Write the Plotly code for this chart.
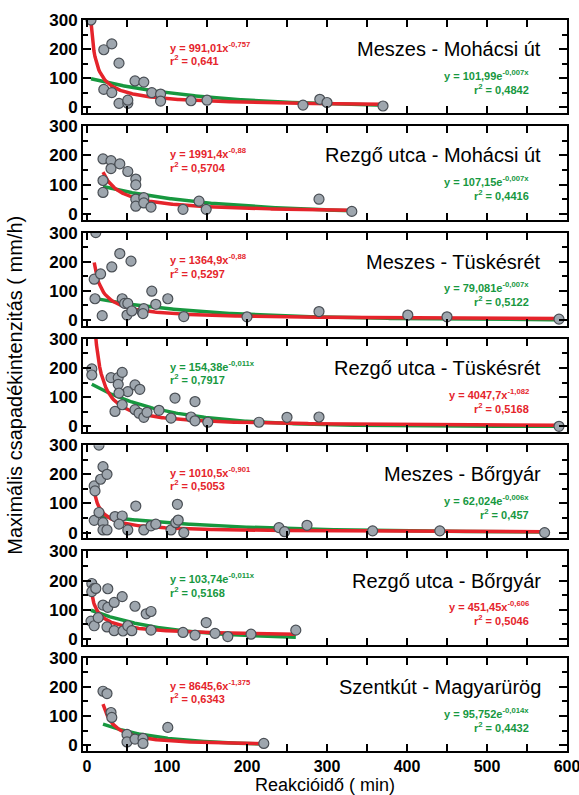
import numpy as np
import plotly.graph_objects as go
from plotly.subplots import make_subplots

panel_titles = ["Meszes - Mohácsi út", "Rezgő utca - Mohácsi út", "Meszes - Tüskésrét",
                "Rezgő utca - Tüskésrét", "Meszes - Bőrgyár", "Rezgő utca - Bőrgyár",
                "Szentkút - Magyarürög"]

# observed points (reaction time in min, max intensity mm/h)
x1 = [5, 21, 31, 40, 21, 31, 40, 51, 51, 60, 71, 81, 92, 92, 130, 150, 270, 291, 300, 370]
y1 = [300, 198, 218, 152, 62, 51, 14, 14, 25, 91, 87, 51, 46, 22, 23, 25, 8, 28, 17, 5]
x2 = [20, 30, 30, 41, 51, 61, 61, 20, 20, 61, 61, 71, 71, 80, 120, 140, 149, 290, 331]
y2 = [188, 182, 155, 171, 145, 119, 99, 114, 73, 50, 26, 55, 37, 23, 15, 43, 15, 50, 8]
x3 = [11, 9, 17, 10, 19, 31, 41, 55, 44, 47, 51, 50, 56, 69, 71, 70, 81, 86, 101, 121, 200, 290, 401, 450, 590]
y3 = [300, 140, 158, 73, 15, 182, 228, 202, 73, 57, 57, 17, 31, 28, 39, 22, 99, 54, 73, 12, 11, 29, 17, 11, 3]
x4 = [6, 6, 30, 39, 44, 39, 51, 60, 66, 40, 35, 44, 60, 65, 71, 75, 90, 105, 110, 130, 135, 135, 151, 215, 250, 290, 590]
y4 = [197, 176, 167, 167, 185, 144, 119, 142, 127, 114, 51, 74, 57, 45, 31, 48, 55, 28, 97, 32, 85, 19, 14, 14, 31, 32, 0]
x5 = [15, 9, 10, 20, 17, 25, 9, 15, 20, 20, 25, 35, 44, 40, 51, 61, 71, 80, 86, 105, 111, 114, 113, 121, 240, 247, 275, 357, 441, 572]
y5 = [300, 160, 143, 226, 183, 200, 42, 69, 34, 9, 9, 55, 57, 29, 9, 91, 9, 23, 29, 9, 34, 43, 97, 0, 17, 3, 25, 6, 6, 0]
x6 = [6, 9, 6, 11, 26, 20, 26, 34, 44, 60, 74, 80, 5, 9, 14, 25, 34, 45, 51, 56, 80, 120, 135, 149, 160, 176, 205, 261]
y6 = [190, 173, 162, 173, 172, 116, 108, 125, 145, 112, 86, 94, 61, 45, 73, 41, 28, 27, 45, 28, 30, 22, 13, 56, 19, 8, 16, 30]
x7 = [20, 25, 30, 31, 50, 50, 60, 70, 70, 101, 221]
y7 = [185, 177, 112, 95, 37, 11, 21, 23, 6, 61, 6]

# fitted curves: power (red) a*x^b, exponential (green) c*e^(k x)
pow_a = [991.01, 1991.4, 1364.9, 4047.7, 1010.5, 451.45, 8645.6]
pow_b = [-0.757, -0.88, -0.88, -1.082, -0.901, -0.606, -1.375]
pow_b_txt = ["-0,757", "-0,88", "-0,88", "-1,082", "-0,901", "-0,606", "-1,375"]
pow_a_txt = ["991,01", "1991,4", "1364,9", "4047,7", "1010,5", "451,45", "8645,6"]
pow_r2 = ["0,641", "0,5704", "0,5297", "0,5168", "0,5053", "0,5046", "0,6343"]
exp_c = [101.99, 107.15, 79.081, 154.38, 62.024, 103.74, 95.752]
exp_k = [-0.007, -0.007, -0.007, -0.011, -0.006, -0.011, -0.014]
exp_c_txt = ["101,99", "107,15", "79,081", "154,38", "62,024", "103,74", "95,752"]
exp_k_txt = ["-0,007x", "-0,007x", "-0,007x", "-0,011x", "-0,006x", "-0,011x", "-0,014x"]
exp_r2 = ["0,4842", "0,4416", "0,5122", "0,7917", "0,457", "0,5168", "0,4432"]
# which fit is written at upper-left ("pow" or "exp")
left_eq = ["pow", "pow", "pow", "exp", "pow", "exp", "pow"]

xs = [x1, x2, x3, x4, x5, x6, x7]
ys = [y1, y2, y3, y4, y5, y6, y7]

RED = "#e5242b"
GREEN = "#17983f"
FONT = "Arial, Liberation Sans, Helvetica, sans-serif"

fig = make_subplots(rows=7, cols=1, shared_xaxes=True, vertical_spacing=13 / 731)

for i in range(7):
    r = i + 1
    xd = np.array(xs[i], dtype=float)
    xx = np.linspace(xd.min(), xd.max(), 300)
    fig.add_trace(go.Scatter(x=xx, y=exp_c[i] * np.exp(exp_k[i] * xx), mode="lines",
                             line=dict(color=GREEN, width=3.5), showlegend=False), row=r, col=1)
    fig.add_trace(go.Scatter(x=xx, y=pow_a[i] * xx ** pow_b[i], mode="lines",
                             line=dict(color=RED, width=3.5), showlegend=False), row=r, col=1)
    fig.add_trace(go.Scatter(x=xs[i], y=ys[i], mode="markers",
                             marker=dict(size=10, color="#9ea6ae", line=dict(color="#4a4f55", width=1.2)),
                             showlegend=False), row=r, col=1)

    xref = "x" if r == 1 else f"x{r}"
    yref = "y" if r == 1 else f"y{r}"
    fig.add_annotation(x=570, y=200, xref=xref, yref=yref, text=panel_titles[i],
                       xanchor="right", yanchor="middle", showarrow=False,
                       font=dict(family=FONT, size=20, color="black"))

    pow_txt = (f"y = {pow_a_txt[i]}x<sup>{pow_b_txt[i]}</sup>", f"r<sup>2</sup> = {pow_r2[i]}", RED)
    exp_txt = (f"y = {exp_c_txt[i]}e<sup>{exp_k_txt[i]}</sup>", f"r<sup>2</sup> = {exp_r2[i]}", GREEN)
    lt, rt = (pow_txt, exp_txt) if left_eq[i] == "pow" else (exp_txt, pow_txt)
    fig.add_annotation(x=101, y=208, xref=xref, yref=yref, text=lt[0], xanchor="left",
                       yanchor="middle", showarrow=False,
                       font=dict(family=FONT, size=11, color=lt[2], weight="bold"))
    fig.add_annotation(x=101, y=162, xref=xref, yref=yref, text=lt[1], xanchor="left",
                       yanchor="middle", showarrow=False,
                       font=dict(family=FONT, size=11, color=lt[2], weight="bold"))
    fig.add_annotation(x=555, y=112, xref=xref, yref=yref, text=rt[0], xanchor="right",
                       yanchor="middle", showarrow=False,
                       font=dict(family=FONT, size=11, color=rt[2], weight="bold"))
    fig.add_annotation(x=555, y=64, xref=xref, yref=yref, text=rt[1], xanchor="right",
                       yanchor="middle", showarrow=False,
                       font=dict(family=FONT, size=11, color=rt[2], weight="bold"))

    fig.update_yaxes(row=r, col=1, range=[-20, 300], tickvals=[0, 100, 200, 300],
                     ticks="inside", ticklen=8, tickwidth=2, tickcolor="black",
                     minor=dict(tickvals=[50, 150, 250], ticks="inside", ticklen=5,
                                tickwidth=2, tickcolor="black"),
                     showline=True, linewidth=2, linecolor="black", mirror="ticks",
                     showgrid=False, zeroline=False, automargin=False,
                     tickfont=dict(family=FONT, size=17, color="black", weight="bold"))
    fig.update_xaxes(row=r, col=1, range=[-5, 600], tickvals=[0, 100, 200, 300, 400, 500, 600],
                     ticks="inside", ticklen=7, tickwidth=2, tickcolor="black",
                     minor=dict(tickvals=[50, 150, 250, 350, 450, 550], ticks="inside", ticklen=7,
                                tickwidth=2, tickcolor="black"),
                     showline=True, linewidth=2, linecolor="black", mirror="ticks",
                     showgrid=False, zeroline=False, automargin=False, ticklabeloverflow="allow",
                     tickfont=dict(family=FONT, size=16, color="black", weight="bold"))

fig.update_xaxes(row=7, col=1, title=dict(text="Reakcióidő ( min)", standoff=5,
                                          font=dict(family=FONT, size=18, color="black")))

fig.add_annotation(x=-0.142, y=0.5, xref="paper", yref="paper", xanchor="center", yanchor="middle",
                   text="Maximális csapadékintenzitás ( mm/h)", textangle=-90, showarrow=False,
                   font=dict(family=FONT, size=20, color="black"))

fig.update_layout(width=579, height=795, margin=dict(l=83, r=12, t=20, b=44),
                  paper_bgcolor="white", plot_bgcolor="white", showlegend=False)

fig.write_html("out.html", config={"displayModeBar": False},
               post_script="document.body.style.margin='0';")
